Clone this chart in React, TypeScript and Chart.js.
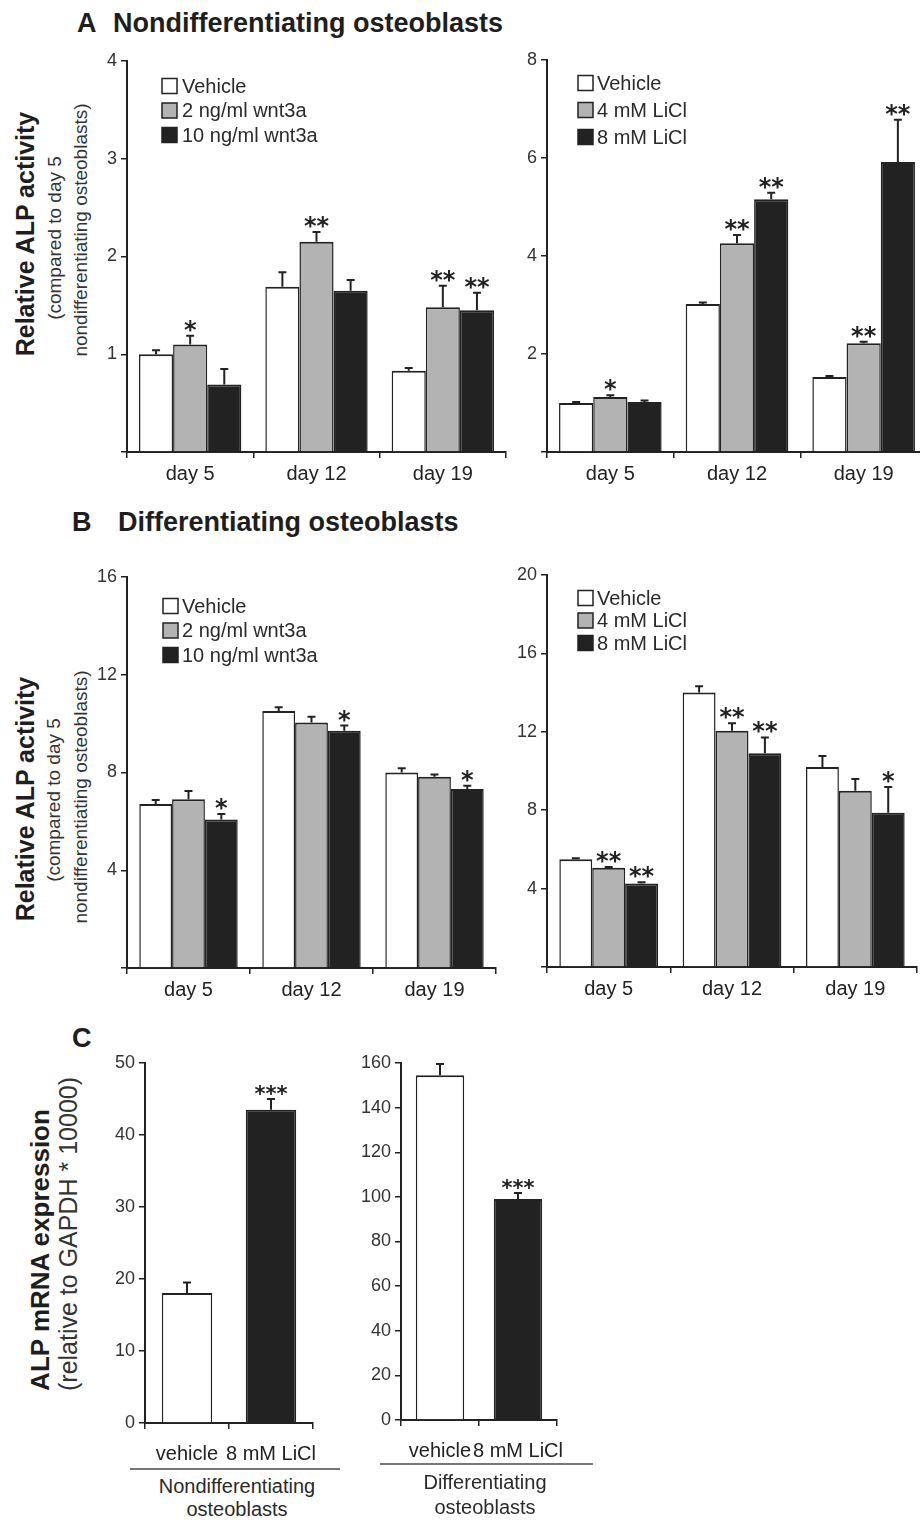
import React, { useEffect, useRef } from 'react';
import { Chart, registerables } from 'chart.js';

Chart.register(...registerables);

const FONT = '"Liberation Sans", Arial, Helvetica, sans-serif';

// ---------- DATA ----------
const dayLabels = ['day 5', 'day 12', 'day 19'];
const wntLegend = ['Vehicle', '2 ng/ml wnt3a', '10 ng/ml wnt3a'];
const liclLegend = ['Vehicle', '4 mM LiCl', '8 mM LiCl'];

// A – nondifferentiating, wnt3a
const aWntVehicle = [1.0, 1.69, 0.83];
const aWntVehicleErr = [0.04, 0.15, 0.03];
const aWnt2 = [1.1, 2.15, 1.48];
const aWnt2Err = [0.09, 0.1, 0.22];
const aWnt2Stars = ['*', '**', '**'];
const aWnt10 = [0.69, 1.65, 1.45];
const aWnt10Err = [0.16, 0.11, 0.18];
const aWnt10Stars = ['', '', '**'];

// A – nondifferentiating, LiCl
const aLiVehicle = [1.0, 3.02, 1.53];
const aLiVehicleErr = [0.02, 0.03, 0.02];
const aLi4 = [1.12, 4.26, 2.22];
const aLi4Err = [0.04, 0.17, 0.03];
const aLi4Stars = ['*', '**', '**'];
const aLi8 = [1.02, 5.16, 5.92];
const aLi8Err = [0.03, 0.13, 0.86];
const aLi8Stars = ['', '**', '**'];

// B – differentiating, wnt3a
const bWntVehicle = [6.71, 10.52, 8.0];
const bWntVehicleErr = [0.16, 0.15, 0.17];
const bWnt2 = [6.91, 10.05, 7.83];
const bWnt2Err = [0.33, 0.23, 0.09];
const bWnt10 = [6.08, 9.71, 7.32];
const bWnt10Err = [0.22, 0.21, 0.14];
const bWnt10Stars = ['*', '*', '*'];

// B – differentiating, LiCl
const bLiVehicle = [5.5, 14.01, 10.21];
const bLiVehicleErr = [0.05, 0.32, 0.55];
const bLi4 = [5.07, 12.05, 8.99];
const bLi4Err = [0.03, 0.38, 0.6];
const bLi4Stars = ['**', '**', ''];
const bLi8 = [4.26, 10.9, 7.87];
const bLi8Err = [0.06, 0.81, 1.32];
const bLi8Stars = ['**', '**', '*'];

// C – mRNA expression
const cLabels = ['vehicle', '8 mM LiCl'];
const cNondiff = [18.06, 43.5];
const cNondiffErr = [1.44, 1.5];
const cNondiffStars = ['', '***'];
const cDiff = [154.5, 99.1];
const cDiffErr = [5.1, 2.6];
const cDiffStars = ['', '***'];

// ---------- STYLE ----------
const WHITE = '#ffffff';
const GRAY = '#b3b3b3';
const BLACK = '#222222';
const INK = '#222222';

// ---------- PLUGINS ----------
const errorBarPlugin = {
  id: 'errorBars',
  afterDatasetsDraw(chart: any, _args: any, o: any) {
    const { ctx } = chart;
    const y = chart.scales.y;
    chart.data.datasets.forEach((ds: any, i: number) => {
      const meta = chart.getDatasetMeta(i);
      meta.data.forEach((bar: any, j: number) => {
        const v = ds.data[j];
        const e = ds.errors ? ds.errors[j] : 0;
        const yBar = y.getPixelForValue(v);
        const yTop = y.getPixelForValue(v + e);
        ctx.save();
        ctx.strokeStyle = INK;
        ctx.lineWidth = 2;
        ctx.beginPath();
        ctx.moveTo(bar.x, yBar);
        ctx.lineTo(bar.x, yTop);
        ctx.moveTo(bar.x - 4, yTop);
        ctx.lineTo(bar.x + 4, yTop);
        ctx.stroke();
        const s = ds.stars ? ds.stars[j] : '';
        if (s) {
          ctx.fillStyle = INK;
          ctx.font = `bold ${o.starSize || 22}px "DejaVu Sans"`;
          ctx.textAlign = 'center';
          ctx.textBaseline = 'alphabetic';
          ctx.fillText(s, bar.x, yTop + 2);
        }
        ctx.restore();
      });
    });
  },
};

const legendPlugin = {
  id: 'panelLegend',
  afterDraw(chart: any, _args: any, o: any) {
    if (!o || !o.show) return;
    const { ctx, chartArea } = chart;
    ctx.save();
    ctx.font = `${o.fontSize}px ${FONT}`;
    ctx.textBaseline = 'middle';
    ctx.textAlign = 'left';
    chart.data.datasets.forEach((ds: any, i: number) => {
      const cy = chartArea.top + o.y + i * o.spacing;
      const bx = chartArea.left + o.x;
      ctx.fillStyle = Array.isArray(ds.backgroundColor) ? ds.backgroundColor[0] : ds.backgroundColor;
      ctx.fillRect(bx, cy - o.box / 2, o.box, o.box);
      ctx.strokeStyle = INK;
      ctx.lineWidth = 1.5;
      ctx.strokeRect(bx, cy - o.box / 2, o.box, o.box);
      ctx.fillStyle = '#2a2a2a';
      ctx.fillText(ds.label, bx + o.box + o.gap, cy + 1);
    });
    ctx.restore();
  },
};

type DS = { label: string; data: number[]; errors: number[]; stars?: string[]; color: string | string[] };

type PanelProps = {
  left: number;
  top: number;
  width: number;
  height: number;
  yWidth: number;
  xHeight: number;
  padTop: number;
  padRight: number;
  labels: string[];
  datasets: DS[];
  yMax: number;
  yStep: number;
  showZero: boolean;
  catPct: number;
  xPad: number;
  starSize: number;
  legend?: any;
};

function BarPanel(p: PanelProps) {
  const ref = useRef<HTMLCanvasElement | null>(null);
  useEffect(() => {
    if (!ref.current) return;
    const gridCfg = {
      display: true,
      drawOnChartArea: false,
      drawTicks: true,
      tickLength: 6,
      color: INK,
      lineWidth: 1.5,
    };
    const chart = new Chart(ref.current, {
      type: 'bar',
      data: {
        labels: p.labels,
        datasets: p.datasets.map((d) => ({
          label: d.label,
          data: d.data,
          errors: d.errors,
          stars: d.stars,
          backgroundColor: d.color,
          borderColor: INK,
          borderWidth: { top: 2, left: 1.5, right: 1.5, bottom: 0 },
          barPercentage: 1,
          categoryPercentage: p.catPct,
        })) as any,
      },
      options: {
        responsive: false,
        maintainAspectRatio: false,
        animation: false,
        layout: { padding: { top: p.padTop, right: p.padRight, left: 0, bottom: 0 } },
        plugins: {
          legend: { display: false },
          tooltip: { enabled: false },
          errorBars: { starSize: p.starSize },
          panelLegend: p.legend ? { show: true, ...p.legend } : { show: false },
        } as any,
        scales: {
          x: {
            type: 'category',
            offset: true,
            grid: { ...gridCfg, offset: true },
            border: { display: true, color: INK, width: 2 },
            ticks: {
              font: { family: FONT, size: 20 },
              color: '#222',
              padding: p.xPad,
              maxRotation: 0,
              autoSkip: false,
            },
            afterFit: (s: any) => {
              s.height = p.xHeight;
            },
          },
          y: {
            min: 0,
            max: p.yMax,
            grid: gridCfg,
            border: { display: true, color: INK, width: 2 },
            ticks: {
              stepSize: p.yStep,
              font: { family: FONT, size: 18 },
              color: '#333',
              padding: 4,
              callback: (v: any) => (Number(v) === 0 && !p.showZero ? '' : String(v)),
            },
            afterFit: (s: any) => {
              s.width = p.yWidth;
            },
          },
        } as any,
      },
      plugins: [errorBarPlugin, legendPlugin],
    });
    return () => chart.destroy();
  }, []);
  return (
    <canvas
      ref={ref}
      width={p.width}
      height={p.height}
      style={{ position: 'absolute', left: p.left, top: p.top, width: p.width, height: p.height }}
    />
  );
}

function Txt(props: {
  x: number;
  y: number;
  size: number;
  bold?: boolean;
  rotate?: boolean;
  anchor?: 'start' | 'middle';
  color?: string;
  children: React.ReactNode;
}) {
  const { x, y, size, bold, rotate, anchor = 'middle', color = '#1e1e1e', children } = props;
  let transform = anchor === 'middle' ? 'translate(-50%, -50%)' : 'translate(0, -50%)';
  if (rotate) transform = 'translate(-50%, -50%) rotate(-90deg)';
  return (
    <div
      style={{
        position: 'absolute',
        left: x,
        top: y,
        transform,
        fontFamily: FONT,
        fontSize: size,
        fontWeight: bold ? 700 : 400,
        lineHeight: 1,
        whiteSpace: 'nowrap',
        color,
      }}
    >
      {children}
    </div>
  );
}

const legendWnt = { x: 35, y: 25, spacing: 24.5, box: 15, gap: 5, fontSize: 20 };
const legendLiA = { x: 31, y: 23, spacing: 27, box: 15, gap: 4, fontSize: 20 };
const legendWntB = { x: 36, y: 29, spacing: 24.5, box: 15, gap: 4, fontSize: 20 };
const legendLiB = { x: 31, y: 23, spacing: 22.5, box: 15, gap: 4, fontSize: 20 };

export default function App() {
  useEffect(() => {
    document.body.style.margin = '0';
    document.body.style.background = '#ffffff';
  }, []);

  return (
    <div
      style={{
        position: 'absolute',
        left: 0,
        top: 0,
        width: 920,
        height: 1520,
        overflow: 'hidden',
        background: '#ffffff',
      }}
    >
      {/* Titles */}
      <Txt x={77} y={23} size={27} bold anchor="start">A</Txt>
      <Txt x={113} y={23} size={27} bold anchor="start">Nondifferentiating osteoblasts</Txt>
      <Txt x={72} y={522} size={27} bold anchor="start">B</Txt>
      <Txt x={118} y={522} size={27} bold anchor="start">Differentiating osteoblasts</Txt>
      <Txt x={72} y={1038} size={27} bold anchor="start">C</Txt>

      {/* Y axis titles A */}
      <Txt x={25} y={234} size={25} bold rotate>Relative ALP activity</Txt>
      <Txt x={54} y={238} size={19} rotate color="#333">(compared to day 5</Txt>
      <Txt x={80} y={230} size={19} rotate color="#333">nondifferentiating osteoblasts)</Txt>

      {/* Y axis titles B */}
      <Txt x={25} y={799} size={25} bold rotate>Relative ALP activity</Txt>
      <Txt x={53} y={800} size={19} rotate color="#333">(compared to day 5</Txt>
      <Txt x={80} y={797} size={19} rotate color="#333">nondifferentiating osteoblasts)</Txt>

      {/* Y axis titles C */}
      <Txt x={40} y={1250} size={26} bold rotate>ALP mRNA expression</Txt>
      <Txt x={68} y={1234} size={25} rotate color="#333">(relative to GAPDH * 10000)</Txt>

      <BarPanel
        left={67}
        top={41}
        width={451}
        height={451}
        yWidth={60}
        xHeight={40}
        padTop={20}
        padRight={12}
        labels={dayLabels}
        datasets={[
          { label: wntLegend[0], data: aWntVehicle, errors: aWntVehicleErr, color: WHITE },
          { label: wntLegend[1], data: aWnt2, errors: aWnt2Err, stars: aWnt2Stars, color: GRAY },
          { label: wntLegend[2], data: aWnt10, errors: aWnt10Err, stars: aWnt10Stars, color: BLACK },
        ]}
        yMax={4}
        yStep={1}
        showZero={false}
        catPct={0.81}
        xPad={4}
        starSize={24}
        legend={legendWnt}
      />

      <BarPanel
        left={487}
        top={40}
        width={440}
        height={452}
        yWidth={60}
        xHeight={40}
        padTop={20}
        padRight={0}
        labels={dayLabels}
        datasets={[
          { label: liclLegend[0], data: aLiVehicle, errors: aLiVehicleErr, color: WHITE },
          { label: liclLegend[1], data: aLi4, errors: aLi4Err, stars: aLi4Stars, color: GRAY },
          { label: liclLegend[2], data: aLi8, errors: aLi8Err, stars: aLi8Stars, color: BLACK },
        ]}
        yMax={8}
        yStep={2}
        showZero={false}
        catPct={0.81}
        xPad={4}
        starSize={24}
        legend={legendLiA}
      />

      <BarPanel
        left={67}
        top={557}
        width={441}
        height={451}
        yWidth={60}
        xHeight={40}
        padTop={20}
        padRight={12}
        labels={dayLabels}
        datasets={[
          { label: wntLegend[0], data: bWntVehicle, errors: bWntVehicleErr, color: WHITE },
          { label: wntLegend[1], data: bWnt2, errors: bWnt2Err, color: GRAY },
          { label: wntLegend[2], data: bWnt10, errors: bWnt10Err, stars: bWnt10Stars, color: BLACK },
        ]}
        yMax={16}
        yStep={4}
        showZero={false}
        catPct={0.8}
        xPad={4}
        starSize={24}
        legend={legendWntB}
      />

      <BarPanel
        left={487}
        top={555}
        width={433}
        height={452}
        yWidth={60}
        xHeight={40}
        padTop={20}
        padRight={3}
        labels={dayLabels}
        datasets={[
          { label: liclLegend[0], data: bLiVehicle, errors: bLiVehicleErr, color: WHITE },
          { label: liclLegend[1], data: bLi4, errors: bLi4Err, stars: bLi4Stars, color: GRAY },
          { label: liclLegend[2], data: bLi8, errors: bLi8Err, stars: bLi8Stars, color: BLACK },
        ]}
        yMax={20}
        yStep={4}
        showZero={false}
        catPct={0.8}
        xPad={4}
        starSize={24}
        legend={legendLiB}
      />

      <BarPanel
        left={85}
        top={1043}
        width={247}
        height={425}
        yWidth={60}
        xHeight={45}
        padTop={20}
        padRight={12}
        labels={cLabels}
        datasets={[
          { label: 'ALP', data: cNondiff, errors: cNondiffErr, stars: cNondiffStars, color: [WHITE, BLACK] },
        ]}
        yMax={50}
        yStep={10}
        showZero={true}
        catPct={0.6}
        xPad={13}
        starSize={21}
      />

      <BarPanel
        left={341}
        top={1043}
        width={238}
        height={422}
        yWidth={60}
        xHeight={45}
        padTop={20}
        padRight={12}
        labels={cLabels}
        datasets={[
          { label: 'ALP', data: cDiff, errors: cDiffErr, stars: cDiffStars, color: [WHITE, BLACK] },
        ]}
        yMax={160}
        yStep={20}
        showZero={true}
        catPct={0.62}
        xPad={13}
        starSize={21}
      />

      {/* C group labels */}
      <div style={{ position: 'absolute', left: 130, top: 1468, width: 210, height: 2, background: '#777' }} />
      <Txt x={237} y={1486} size={20} color="#2a2a2a">Nondifferentiating</Txt>
      <Txt x={237} y={1509} size={20} color="#2a2a2a">osteoblasts</Txt>

      <div style={{ position: 'absolute', left: 380, top: 1463, width: 213, height: 2, background: '#777' }} />
      <Txt x={485} y={1482} size={20} color="#2a2a2a">Differentiating</Txt>
      <Txt x={485} y={1507} size={20} color="#2a2a2a">osteoblasts</Txt>
    </div>
  );
}
